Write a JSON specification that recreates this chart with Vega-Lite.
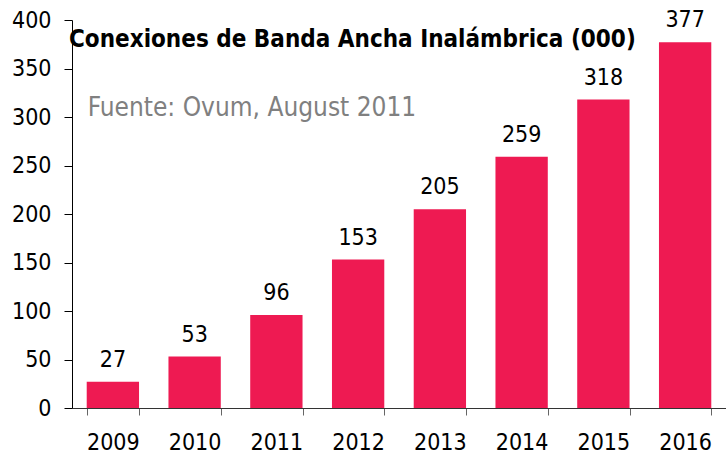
{
  "$schema": "https://vega.github.io/schema/vega-lite/v6.json",
  "width": 654,
  "height": 388,
  "autosize": {"type": "none"},
  "padding": {"left": 72, "top": 20, "right": 0, "bottom": 47},
  "background": "white",
  "title": {
    "text": "Conexiones de Banda Ancha Inalámbrica (000)",
    "anchor": "start",
    "frame": "group",
    "orient": "top",
    "offset": -43,
    "dx": -3,
    "font": "DejaVu Sans Condensed, Liberation Sans",
    "fontSize": 24,
    "fontWeight": "bold",
    "color": "black"
  },
  "data": {
    "values": [
      {"year": "2009", "value": 27},
      {"year": "2010", "value": 53},
      {"year": "2011", "value": 96},
      {"year": "2012", "value": 153},
      {"year": "2013", "value": 205},
      {"year": "2014", "value": 259},
      {"year": "2015", "value": 318},
      {"year": "2016", "value": 377}
    ]
  },
  "layer": [
    {
      "mark": {"type": "bar", "color": "#EE1A52"},
      "encoding": {
        "x": {
          "field": "year", "type": "ordinal",
          "scale": {"paddingInner": 0.36, "paddingOuter": 0.18},
          "axis": {
            "title": null, "labelAngle": 0, "labelFontSize": 23,
            "labelFont": "DejaVu Sans Condensed, Liberation Sans",
            "labelColor": "black", "labelPadding": 16,
            "tickBand": "extent", "tickSize": 7, "tickColor": "#666666",
            "domainColor": "#333333", "grid": false
          }
        },
        "y": {
          "field": "value", "type": "quantitative",
          "scale": {"domain": [0, 400], "nice": false},
          "axis": {
            "title": null, "values": [0, 50, 100, 150, 200, 250, 300, 350, 400],
            "labelFontSize": 23, "labelFont": "DejaVu Sans Condensed, Liberation Sans",
            "labelColor": "black", "labelPadding": 13, "tickSize": 8,
            "tickColor": "black", "domainColor": "black", "grid": false
          }
        }
      }
    },
    {
      "mark": {
        "type": "text", "baseline": "alphabetic", "dy": -15,
        "fontSize": 23, "font": "DejaVu Sans Condensed, Liberation Sans", "color": "black"
      },
      "encoding": {
        "x": {"field": "year", "type": "ordinal"},
        "y": {"field": "value", "type": "quantitative"},
        "text": {"field": "value", "type": "quantitative"}
      }
    },
    {
      "data": {"values": [{"note": "Fuente: Ovum, August 2011", "year": "2009", "pos": 309}]},
      "mark": {
        "type": "text", "align": "left", "baseline": "middle", "dx": 1,
        "fontSize": 26, "font": "DejaVu Sans Condensed, Liberation Sans", "color": "#808080"
      },
      "encoding": {
        "x": {"field": "year", "type": "ordinal", "bandPosition": 0},
        "y": {"field": "pos", "type": "quantitative"},
        "text": {"field": "note", "type": "nominal"}
      }
    }
  ],
  "config": {"view": {"stroke": null}}
}
